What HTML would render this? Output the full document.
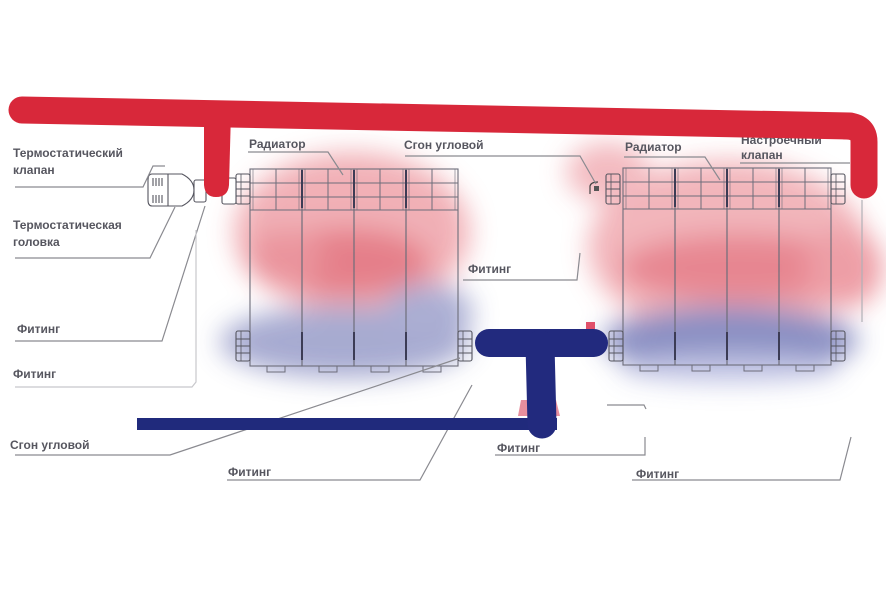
<!DOCTYPE html>
<html><head><meta charset="utf-8"><style>
html,body{margin:0;padding:0;background:#fff;}
svg{display:block;}
text{font-family:"Liberation Sans","DejaVu Sans",sans-serif;font-weight:bold;fill:#56565f;font-size:12px;}
</style></head><body>
<svg width="886" height="591" viewBox="0 0 886 591" xmlns="http://www.w3.org/2000/svg">
<defs>
<filter id="b" x="-50%" y="-50%" width="200%" height="200%"><feGaussianBlur stdDeviation="13"/></filter>
<g id="sec">
  <rect x="0" y="0" width="52" height="197" fill="none" stroke="#6d6d7a" stroke-width="1.1"/>
  <line x1="0" y1="14" x2="52" y2="14" stroke="#6d6d7a" stroke-width="1"/>
  <line x1="0" y1="28" x2="52" y2="28" stroke="#6d6d7a" stroke-width="1"/>
  <line x1="0" y1="41" x2="52" y2="41" stroke="#6d6d7a" stroke-width="1"/>
  <line x1="26" y1="0" x2="26" y2="41" stroke="#6d6d7a" stroke-width="1"/>
  <line x1="3" y1="0" x2="3" y2="41" stroke="#6d6d7a" stroke-width="0.6"/>
  <line x1="49" y1="0" x2="49" y2="41" stroke="#6d6d7a" stroke-width="0.6"/>
  <rect x="17" y="197" width="18" height="6" fill="none" stroke="#6d6d7a" stroke-width="1"/>
</g>
<g id="nut">
  <rect x="0" y="0" width="14" height="30" rx="2" fill="none" stroke="#55555f" stroke-width="1.1"/>
  <line x1="0" y1="8" x2="14" y2="8" stroke="#55555f"/>
  <line x1="0" y1="15" x2="14" y2="15" stroke="#55555f"/>
  <line x1="0" y1="22" x2="14" y2="22" stroke="#55555f"/>
  <line x1="5" y1="0" x2="5" y2="30" stroke="#55555f" stroke-width="0.8"/>
</g>
</defs>

<!-- heat blobs -->
<g filter="url(#b)" opacity="0.9">
  <ellipse cx="352" cy="232" rx="118" ry="80" fill="#f0a8af"/>
  <ellipse cx="350" cy="262" rx="80" ry="34" fill="#e3727e"/>
  <ellipse cx="285" cy="258" rx="38" ry="28" fill="#e88993"/>
  <ellipse cx="345" cy="342" rx="125" ry="36" fill="#9ea2cc"/>
  <ellipse cx="428" cy="312" rx="45" ry="28" fill="#a2a6cf"/>
  <ellipse cx="728" cy="248" rx="140" ry="88" fill="#f1adb4"/>
  <ellipse cx="608" cy="172" rx="42" ry="30" fill="#f2b3b9"/>
  <ellipse cx="740" cy="268" rx="120" ry="34" fill="#e57a86"/>
  <ellipse cx="845" cy="268" rx="38" ry="40" fill="#ec949d"/>
  <ellipse cx="730" cy="340" rx="128" ry="34" fill="#7f84bd"/>
  <ellipse cx="730" cy="368" rx="110" ry="14" fill="#b8bbe0"/>
</g>

<!-- left radiator -->
<use href="#sec" x="250" y="169"/>
<use href="#sec" x="302" y="169"/>
<use href="#sec" x="354" y="169"/>
<use href="#sec" x="406" y="169"/>
<g stroke="#3c3c55" stroke-width="2">
  <line x1="302" y1="170" x2="302" y2="208"/><line x1="354" y1="170" x2="354" y2="208"/><line x1="406" y1="170" x2="406" y2="208"/>
  <line x1="302" y1="332" x2="302" y2="360"/><line x1="354" y1="332" x2="354" y2="360"/><line x1="406" y1="332" x2="406" y2="360"/>
</g>
<use href="#nut" x="236" y="174"/>
<use href="#nut" x="236" y="331"/>
<use href="#nut" x="458" y="331"/>

<!-- right radiator -->
<use href="#sec" x="623" y="168"/>
<use href="#sec" x="675" y="168"/>
<use href="#sec" x="727" y="168"/>
<use href="#sec" x="779" y="168"/>
<g stroke="#3c3c55" stroke-width="2">
  <line x1="675" y1="169" x2="675" y2="207"/><line x1="727" y1="169" x2="727" y2="207"/><line x1="779" y1="169" x2="779" y2="207"/>
  <line x1="675" y1="332" x2="675" y2="360"/><line x1="727" y1="332" x2="727" y2="360"/><line x1="779" y1="332" x2="779" y2="360"/>
</g>
<use href="#nut" x="606" y="174"/>
<use href="#nut" x="831" y="174"/>
<use href="#nut" x="609" y="331"/>
<use href="#nut" x="831" y="331"/>
<path d="M590 194 L590 186 Q591 182 598 182" fill="none" stroke="#444" stroke-width="1.2"/>
<rect x="594" y="186" width="5" height="5" fill="#555"/>

<!-- thermostat head -->
<g stroke="#55555f" stroke-width="1.1" fill="#fff">
  <path d="M152 174 L182 174 Q194 180 194 190 Q194 200 182 206 L152 206 Q148 206 148 200 L148 180 Q148 174 152 174 Z"/>
  <line x1="168" y1="174" x2="168" y2="206"/>
  <line x1="153" y1="178" x2="153" y2="186"/><line x1="156" y1="178" x2="156" y2="186"/><line x1="159" y1="178" x2="159" y2="186"/><line x1="162" y1="178" x2="162" y2="186"/>
  <line x1="153" y1="195" x2="153" y2="203"/><line x1="156" y1="195" x2="156" y2="203"/><line x1="159" y1="195" x2="159" y2="203"/><line x1="162" y1="195" x2="162" y2="203"/>
  <rect x="194" y="180" width="12" height="22" rx="2"/>
  <rect x="222" y="178" width="14" height="26" rx="2"/>
</g>

<!-- leader lines -->
<g fill="none" stroke="#8a8a90" stroke-width="1.2">
  <polyline points="15,187 143,187 153,166 165,166"/>
  <polyline points="15,258 150,258 175,207"/>
  <polyline points="15,341 162,341 205,206"/>
  <polyline points="15,387 192,387 196,382 196,230" stroke="#c8c8cc"/>
  <polyline points="15,455 170,455 460,358"/>
  <polyline points="227,480 420,480 472,385"/>
  <polyline points="248,152 328,152 343,175"/>
  <polyline points="405,156 580,156 596,184"/>
  <polyline points="463,280 577,280 580,253"/>
  <polyline points="495,455 645,455 645,437"/>
  <polyline points="607,405 644,405 646,409"/>
  <polyline points="632,480 840,480 851,437"/>
  <polyline points="624,157 705,157 720,180"/>
  <polyline points="740,163 850,163"/>
  <polyline points="862,200 862,322" stroke="#b0b0b6"/>
</g>

<!-- labels -->
<text x="13" y="157">Термостатический</text>
<text x="13" y="174">клапан</text>
<text x="13" y="229">Термостатическая</text>
<text x="13" y="246">головка</text>
<text x="17" y="333" font-size="11">Фитинг</text>
<text x="13" y="378" font-size="11">Фитинг</text>
<text x="10" y="449" font-size="12.5">Сгон угловой</text>
<text x="228" y="476" font-size="11">Фитинг</text>
<text x="249" y="148">Радиатор</text>
<text x="404" y="149">Сгон угловой</text>
<text x="468" y="273" font-size="11">Фитинг</text>
<text x="497" y="452" font-size="11">Фитинг</text>
<text x="625" y="151">Радиатор</text>
<text x="741" y="144">Настроечный</text>
<text x="741" y="159">клапан</text>
<text x="636" y="478" font-size="11">Фитинг</text>

<!-- red pipe -->
<path d="M22 110 L850 126" stroke="#d8283a" stroke-width="27" stroke-linecap="round" fill="none"/>
<path d="M846 126 Q864 126 864 142 L864 185" stroke="#d8283a" stroke-width="27" stroke-linecap="round" stroke-linejoin="round" fill="none"/>
<path d="M204 112 L231 112 L229 185 Q228 197 216 197 Q205 197 204 185 Z" fill="#d8283a"/>

<!-- pink marks -->
<rect x="586" y="322" width="9" height="7" fill="#e0506a"/>
<path d="M521 400 L532 400 L532 416 L518 416 Z" fill="#e06a7e" opacity="0.75"/>
<path d="M550 400 L556 400 L560 416 L550 416 Z" fill="#e06a7e" opacity="0.75"/>

<!-- blue pipes -->
<rect x="137" y="418" width="420" height="12" fill="#202a7c"/>
<path d="M489 343 L594 343" stroke="#222a7e" stroke-width="28" stroke-linecap="round"/>
<path d="M540 345 L542 424" stroke="#222a7e" stroke-width="29" stroke-linecap="round"/>
</svg>
</body></html>
